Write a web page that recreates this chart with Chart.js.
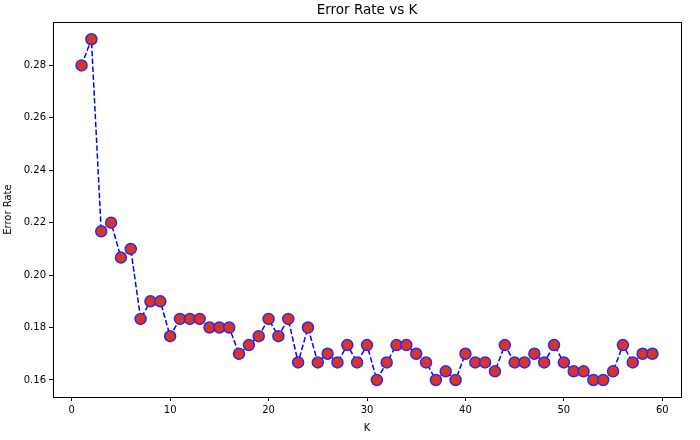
<!DOCTYPE html>
<html>
<head>
<meta charset="utf-8">
<script src="https://cdn.jsdelivr.net/npm/chart.js@4.4.1/dist/chart.umd.min.js"></script>
<style>
  html, body { margin: 0; padding: 0; background: #fff; }
  #wrap { width: 700px; height: 440px; }
</style>
</head>
<body>
<div id="wrap"><canvas id="chart" width="700" height="440"></canvas></div>
<script>
// valores (erro de teste para cada K)
const kValues = [
  1, 2, 3, 4, 5, 6, 7, 8, 9, 10, 11, 12, 13, 14, 15, 16, 17, 18, 19, 20,
  21, 22, 23, 24, 25, 26, 27, 28, 29, 30, 31, 32, 33, 34, 35, 36, 37, 38, 39, 40,
  41, 42, 43, 44, 45, 46, 47, 48, 49, 50, 51, 52, 53, 54, 55, 56, 57, 58, 59,
];
const errorRate = [
  0.28, 0.29, 0.2167, 0.22, 0.2067, 0.21, 0.1833, 0.19, 0.19, 0.1767,
  0.1833, 0.1833, 0.1833, 0.18, 0.18, 0.18, 0.17, 0.1733, 0.1767, 0.1833,
  0.1767, 0.1833, 0.1667, 0.18, 0.1667, 0.17, 0.1667, 0.1733, 0.1667, 0.1733,
  0.16, 0.1667, 0.1733, 0.1733, 0.17, 0.1667, 0.16, 0.1633, 0.16, 0.17,
  0.1667, 0.1667, 0.1633, 0.1733, 0.1667, 0.1667, 0.17, 0.1667, 0.1733, 0.1667,
  0.1633, 0.1633, 0.16, 0.16, 0.1633, 0.1733, 0.1667, 0.17, 0.17,
];
const xTicks = [0, 10, 20, 30, 40, 50, 60];
const yTicks = [0.16, 0.18, 0.2, 0.22, 0.24, 0.26, 0.28];

const FONT = "'DejaVu Sans', sans-serif";

// moldura nos 4 lados, como no matplotlib
const boxPlugin = {
  id: "box",
  afterDraw(chart) {
    const { ctx, chartArea: a } = chart;
    ctx.save();
    ctx.strokeStyle = "#000";
    ctx.lineWidth = 1;
    ctx.strokeRect(Math.round(a.left) + 0.5, Math.round(a.top) + 0.5,
      Math.round(a.right - a.left), Math.round(a.bottom - a.top));
    ctx.restore();
  },
};

new Chart(document.getElementById("chart"), {
  type: "line",
  data: {
    datasets: [{
      label: "Error Rate",
      data: kValues.map((k, i) => ({ x: k, y: errorRate[i] })),
      borderColor: "#0000ff",
      borderWidth: 1.5,
      borderDash: [5.5, 2.4],
      tension: 0,
      pointRadius: 5.5,
      pointHoverRadius: 5.5,
      pointBackgroundColor: "#dd3322",
      pointBorderColor: "#2b2bee",
      pointBorderWidth: 1.5,
    }],
  },
  options: {
    responsive: false,
    animation: false,
    devicePixelRatio: 1,
    layout: { padding: { left: 0, right: 19, top: 0, bottom: 0 } },
    plugins: {
      legend: { display: false },
      tooltip: { enabled: false },
      title: {
        display: true,
        fullSize: false,
        text: "Error Rate vs K",
        color: "#000",
        font: { family: FONT, size: 13.5, weight: "normal" },
        padding: { top: 2, bottom: 4 },
      },
    },
    scales: {
      x: {
        type: "linear",
        min: -1.9,
        max: 61.9,
        afterBuildTicks: (s) => { s.ticks = xTicks.map((v) => ({ value: v })); },
        afterFit: (s) => { s.height = 43; },
        grid: { display: true, drawOnChartArea: false, tickLength: 4, color: "#000" },
        border: { display: true, color: "#000" },
        ticks: { color: "#000", padding: 3, font: { family: FONT, size: 10 } },
        title: {
          display: true, text: "K", color: "#000",
          font: { family: FONT, size: 10 }, padding: { top: 0, bottom: 6 },
        },
      },
      y: {
        min: 0.1535,
        max: 0.2965,
        afterBuildTicks: (s) => { s.ticks = yTicks.map((v) => ({ value: v })); },
        afterFit: (s) => { s.width = 53; },
        grid: { display: true, drawOnChartArea: false, tickLength: 4, color: "#000" },
        border: { display: true, color: "#000" },
        ticks: {
          color: "#000", padding: 3, font: { family: FONT, size: 10 },
          callback: (v) => v.toFixed(2),
        },
        title: {
          display: true, text: "Error Rate", color: "#000",
          font: { family: FONT, size: 10 }, padding: { top: 2, bottom: 0 },
        },
      },
    },
  },
  plugins: [boxPlugin],
});
</script>
</body>
</html>
